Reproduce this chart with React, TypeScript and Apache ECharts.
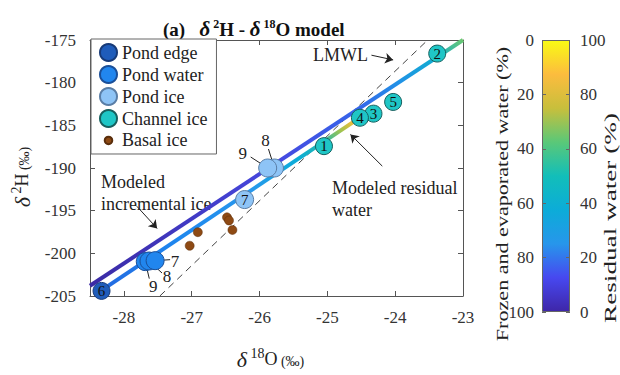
import React, { useEffect, useRef } from 'react';
import * as echarts from 'echarts';

const FONT = 'Liberation Serif';

// Axis ticks
const xTicks = [-28, -27, -26, -25, -24, -23];
const yTicks = [-205, -200, -195, -190, -185, -180, -175];
const colorbarTicks = [0, 20, 40, 60, 80, 100];

// Samples (δ18O, δ2H)
const pondEdge = [[-28.33, -204.4]];
const pondEdgeIds = ['6'];
const pondWater = [[-27.54, -200.86], [-27.63, -200.9], [-27.685, -200.97]];
const pondWaterIds = ['7', '8', '9'];
const pondIce = [[-26.22, -193.7], [-25.78, -190.0], [-25.88, -190.0]];
const pondIceIds = ['7', '8', '9'];
const channelIce = [[-25.05, -187.44], [-23.38, -176.59], [-24.32, -183.63], [-24.52, -184.11], [-24.03, -182.26]];
const channelIceIds = ['1', '2', '3', '4', '5'];
const basalIce = [[-27.03, -199.11], [-26.91, -197.52], [-26.48, -195.78], [-26.45, -196.15], [-26.4, -197.26]];

// Lines
const lmwlX = [-27.47, -23.52];
const lmwlY = [-205, -175];
const incIceX = [-28.5, -23];
const incIceY = [-203.8, -175];
const resWaterX = [-28.38, -24.62];
const resWaterY = [-204.6, -184.63];

// Annotation arrows (tail -> head)
const arrows = [
  [[-24.35, -176.78], [-24.03, -177.33]],
  [[-24.19, -189.78], [-24.66, -186.06]],
  [[-27.81, -194.48], [-27.51, -197.08]],
];

const PARULA = ['#3e26a8', '#4748f0', '#2796eb', '#0cacd8', '#12beb9', '#5ac878', '#c8bf3c', '#fcbc3e', '#f9fb14'];

export default function App() {
  const ref = useRef<HTMLDivElement>(null);
  useEffect(() => {
    document.body.style.margin = '0';
    const chart = echarts.init(ref.current!, null, { renderer: 'svg' });
    const zip = (xs: number[], ys: number[]) => xs.map((x, i) => [x, ys[i]]);
    const withIds = (pts: number[][], ids: string[]) => pts.map((p, i) => [p[0], p[1], ids[i]]);

    const callouts = [
      { pt: pondWater[0], text: pondWaterIds[0], ex: 15, ey: -1, lx: 20, ly: 1 },
      { pt: pondWater[1], text: pondWaterIds[1], ex: 13, ey: 12, lx: 18, ly: 15 },
      { pt: pondWater[2], text: pondWaterIds[2], ex: 4, ey: 17, lx: 8, ly: 25 },
      { pt: pondIce[1], text: pondIceIds[1], ex: -6, ey: -19, lx: -9, ly: -28 },
      { pt: pondIce[2], text: pondIceIds[2], ex: -17, ey: -11, lx: -25, ly: -15 },
    ];
    const calloutSet = new Set(['8', '9']);

    const numLabel = {
      show: true,
      position: 'inside',
      formatter: (p: any) => p.value[2],
      fontFamily: FONT,
      fontSize: 15,
      color: '#111',
    };

    const cbStops = PARULA.map((c, i) => ({ offset: 1 - i / (PARULA.length - 1), color: c })).reverse();

    const incGrad = new echarts.graphic.LinearGradient(0, 1, 1, 0, [
      { offset: 0, color: '#3b2aa4' },
      { offset: 0.5, color: '#4648e0' },
      { offset: 0.72, color: '#3566ea' },
      { offset: 0.83, color: '#2092e6' },
      { offset: 0.93, color: '#10aecf' },
      { offset: 1, color: '#6cc870' },
    ]);
    const resGrad = new echarts.graphic.LinearGradient(0, 1, 1, 0, [
      { offset: 0, color: '#2468e0' },
      { offset: 0.3, color: '#1e86ee' },
      { offset: 0.6, color: '#2898ec' },
      { offset: 0.78, color: '#0cacd8' },
      { offset: 0.886, color: '#22b8ac' },
      { offset: 0.95, color: '#a0c450' },
      { offset: 1, color: '#f0bc3a' },
    ]);

    const axisLine = { show: true, lineStyle: { color: '#555', width: 1 } };
    const tickStyle = { show: true, inside: true, length: 5, lineStyle: { color: '#555' } };
    const labelStyle = { fontFamily: FONT, fontSize: 17, color: '#333' };
    const nameRich = {
      d: { fontFamily: FONT, fontSize: 22, fontStyle: 'italic', color: '#222' },
      s: { fontFamily: FONT, fontSize: 14, color: '#222', padding: [0, 0, 12, 0] },
      o: { fontFamily: FONT, fontSize: 18, color: '#222' },
      p: { fontFamily: FONT, fontSize: 14, color: '#222', padding: [4, 0, 0, 0] },
    };

    const option: any = {
      animation: false,
      backgroundColor: '#fff',
      textStyle: { fontFamily: FONT },
      grid: [
        { left: 90, right: 157, top: 40, bottom: 65, show: false },
        { left: 542, width: 28, top: 40, height: 272, show: false },
      ],
      xAxis: [
        {
          type: 'value', gridIndex: 0, position: 'bottom', min: -28.5, max: -23,
          axisLine, splitLine: { show: false },
          axisTick: { ...tickStyle, customValues: xTicks },
          axisLabel: { ...labelStyle, margin: 13, customValues: xTicks },
          name: '{d|δ}{s| 18}{o|O}{p| (‰)}',
          nameLocation: 'middle', nameGap: 50,
          nameTextStyle: { rich: nameRich, padding: [0, 12, 0, 0] },
        },
        {
          type: 'value', gridIndex: 0, position: 'top', min: -28.5, max: -23,
          axisLine, splitLine: { show: false },
          axisTick: { ...tickStyle, customValues: xTicks },
          axisLabel: { show: false },
        },
        { type: 'category', gridIndex: 1, data: ['cb'], show: false },
      ],
      yAxis: [
        {
          type: 'value', gridIndex: 0, position: 'left', min: -205, max: -175, interval: 5,
          axisLine, splitLine: { show: false },
          axisTick: tickStyle,
          axisLabel: { ...labelStyle, margin: 14 },
          name: '{d|δ}{s| 2}{o|H}{p| (‰)}',
          nameLocation: 'middle', nameGap: 55, nameRotate: 90,
          nameTextStyle: { rich: nameRich, padding: [0, 18, 0, 0] },
        },
        {
          type: 'value', gridIndex: 0, position: 'right', min: -205, max: -175, interval: 5,
          axisLine, splitLine: { show: false },
          axisTick: tickStyle,
          axisLabel: { show: false },
        },
        {
          type: 'value', gridIndex: 1, position: 'left', min: 0, max: 100, interval: 20, inverse: true,
          axisLine: { show: false }, splitLine: { show: false }, z: 10,
          axisTick: { show: true, inside: true, length: 4, lineStyle: { color: '#666' } },
          axisLabel: { ...labelStyle, margin: 8 },
        },
        {
          type: 'value', gridIndex: 1, position: 'right', min: 0, max: 100, interval: 20,
          axisLine: { show: false }, splitLine: { show: false }, z: 10,
          axisTick: { show: true, inside: true, length: 4, lineStyle: { color: '#666' } },
          axisLabel: { ...labelStyle, margin: 10 },
        },
      ],
      legend: {
        orient: 'vertical', left: 91, top: 39,
        padding: [4, 9, 4, 8], itemGap: 3, itemWidth: 17, itemHeight: 17,
        backgroundColor: '#fff', borderColor: '#666', borderWidth: 1, borderRadius: 0,
        selectedMode: false,
        textStyle: { fontFamily: FONT, fontSize: 18, color: '#222' },
        data: [
          { name: 'Pond edge', icon: 'circle' },
          { name: 'Pond water', icon: 'circle' },
          { name: 'Pond ice', icon: 'circle' },
          { name: 'Channel ice', icon: 'circle' },
          { name: 'Basal ice', icon: 'path://M0,0L0.01,0M18,18L18.01,18M9,5A4,4,0,1,1,9,13A4,4,0,1,1,9,5Z' },
        ],
      },
      graphic: [
        {
          type: 'text', left: 163, top: 18,
          style: {
            text: '{b|(a)   }{d|δ}{s| 2}{b|H - }{d|δ}{s| 18}{b|O model}',
            rich: {
              b: { fontFamily: FONT, fontSize: 19, fontWeight: 'bold', fill: '#111' },
              d: { fontFamily: FONT, fontSize: 21, fontWeight: 'bold', fontStyle: 'italic', fill: '#111' },
              s: { fontFamily: FONT, fontSize: 12, fontWeight: 'bold', fill: '#111', padding: [0, 0, 10, 0] },
            },
          },
        },
        { type: 'text', x: 313, y: 55, style: { text: 'LMWL', font: `18px ${FONT}`, fill: '#222', verticalAlign: 'middle' } },
        { type: 'text', x: 101, y: 182, style: { text: 'Modeled', font: `18px ${FONT}`, fill: '#222', verticalAlign: 'middle' } },
        { type: 'text', x: 101, y: 204, style: { text: 'incremental ice', font: `18px ${FONT}`, fill: '#222', verticalAlign: 'middle' } },
        { type: 'text', x: 332, y: 188, style: { text: 'Modeled residual', font: `18px ${FONT}`, fill: '#222', verticalAlign: 'middle' } },
        { type: 'text', x: 332, y: 210, style: { text: 'water', font: `18px ${FONT}`, fill: '#222', verticalAlign: 'middle' } },
        {
          type: 'text', x: 556, y: 188, rotation: Math.PI / 2, scaleX: 1.12,
          style: { text: 'Stage of freezing', font: `17px ${FONT}`, fill: '#2040b8', align: 'center', verticalAlign: 'middle' },
        },
        {
          type: 'text', x: 502, y: 194, rotation: Math.PI / 2, scaleX: 1.3,
          style: { text: 'Frozen and evaporated water (%)', font: `17px ${FONT}`, fill: '#222', align: 'center', verticalAlign: 'middle' },
        },
        {
          type: 'text', x: 610, y: 218, rotation: Math.PI / 2, scaleX: 1.6,
          style: { text: 'Residual water (%)', font: `17px ${FONT}`, fill: '#222', align: 'center', verticalAlign: 'middle' },
        },
      ],
      series: [
        {
          type: 'line', name: 'LMWL', data: zip(lmwlX, lmwlY), symbol: 'none', z: 1,
          lineStyle: { color: '#444', width: 1, type: [7, 5] },
        },
        {
          type: 'line', name: 'Modeled incremental ice', data: zip(incIceX, incIceY), symbol: 'none', z: 2,
          lineStyle: { color: incGrad, width: 4 },
        },
        {
          type: 'line', name: 'Modeled residual water', data: zip(resWaterX, resWaterY), symbol: 'none', z: 2,
          lineStyle: { color: resGrad, width: 4 },
        },
        {
          type: 'custom', name: 'callouts', z: 3,
          data: callouts.map((c) => [c.pt[0], c.pt[1]]),
          renderItem: (params: any, api: any) => {
            const c = callouts[params.dataIndex];
            const p = api.coord([api.value(0), api.value(1)]);
            return {
              type: 'group',
              children: [
                { type: 'line', shape: { x1: p[0], y1: p[1], x2: p[0] + c.ex, y2: p[1] + c.ey }, style: { stroke: '#222', lineWidth: 1 } },
                { type: 'text', x: p[0] + c.lx, y: p[1] + c.ly, style: { text: c.text, font: `17px ${FONT}`, fill: '#222', align: 'center', verticalAlign: 'middle' } },
              ],
            };
          },
        },
        {
          type: 'scatter', name: 'Pond edge', data: withIds(pondEdge, pondEdgeIds), symbolSize: 17, z: 4,
          itemStyle: { color: '#1f5cba', borderColor: '#173a78', borderWidth: 1, opacity: 1 },
          label: numLabel,
        },
        {
          type: 'scatter', name: 'Pond water', data: withIds(pondWater, pondWaterIds).reverse(), symbolSize: 18, z: 4,
          itemStyle: { color: '#2186ee', borderColor: '#1a4f99', borderWidth: 1, opacity: 1 },
        },
        {
          type: 'scatter', name: 'Pond ice', z: 4, symbolSize: 18,
          data: withIds(pondIce, pondIceIds).map((v) => ({ value: v, label: { show: !calloutSet.has(v[2] as string) } })),
          itemStyle: { color: '#8ec4f6', borderColor: '#5a7ea6', borderWidth: 1, opacity: 1 },
          label: numLabel,
        },
        {
          type: 'scatter', name: 'Channel ice', data: withIds(channelIce, channelIceIds), symbolSize: 17, z: 4,
          itemStyle: { color: '#1fc6c6', borderColor: '#17605f', borderWidth: 1, opacity: 1 },
          label: numLabel,
        },
        {
          type: 'scatter', name: 'Basal ice', data: basalIce, symbolSize: 9, z: 4,
          itemStyle: { color: '#8e4a14', borderColor: '#5a2e0c', borderWidth: 0.5, opacity: 1 },
        },
        {
          type: 'lines', coordinateSystem: 'cartesian2d', z: 5,
          symbol: ['none', 'arrow'], symbolSize: 8,
          lineStyle: { color: '#222', width: 1, opacity: 1 },
          data: arrows.map((a) => ({ coords: a })),
        },
        {
          type: 'bar', name: 'colorbar', xAxisIndex: 2, yAxisIndex: 3, data: [100],
          barWidth: '100%', z: 2,
          itemStyle: { color: new echarts.graphic.LinearGradient(0, 0, 0, 1, cbStops), borderColor: '#666', borderWidth: 1 },
        },
      ],
    };
    chart.setOption(option);
    return () => chart.dispose();
  }, []);
  return <div ref={ref} style={{ width: 620, height: 375 }} />;
}
